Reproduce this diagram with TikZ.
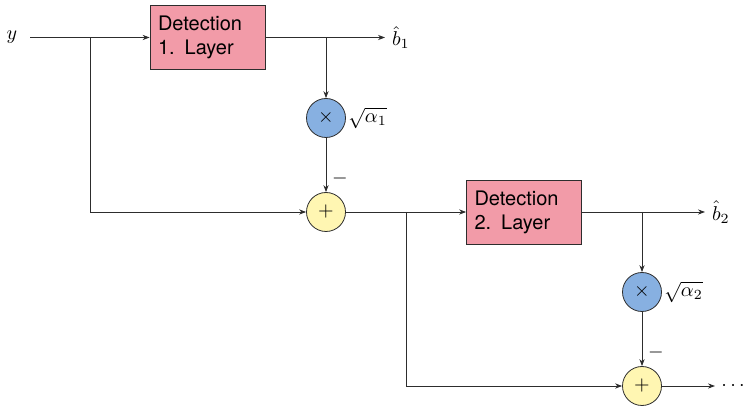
\documentclass[tikz,border=0pt]{standalone}
\usepackage{fontspec}
\setsansfont{TeX Gyre Heros}
\usetikzlibrary{arrows.meta}

\definecolor{detpink}{RGB}{242,155,168}
\definecolor{multblue}{RGB}{135,176,225}
\definecolor{sumyellow}{RGB}{255,246,178}
\definecolor{edgegray}{RGB}{45,45,45}

\begin{document}
\begin{tikzpicture}[x=0.5pt,y=-0.5pt,
  det/.style={draw=edgegray, fill=detpink, font=\sffamily, align=left,
    text width=49.5pt, inner xsep=4pt, minimum height=32pt},
  mult/.style={circle, draw=edgegray, fill=multblue, minimum size=19.5pt, inner sep=0pt},
  summ/.style={circle, draw=edgegray, fill=sumyellow, minimum size=19.5pt, inner sep=0pt},
  sig/.style={draw=edgegray, -{Stealth[length=3.5pt,width=2.6pt]}},
  lab/.style={anchor=west, inner sep=1pt}]
  \useasboundingbox (0,0) rectangle (745,406);

  % first detection stage
  \node (y) at (12,37.5) {$y$};
  \coordinate (in) at (30,37.5);
  \node[det] (d1) at (207.5,37.5) {Detection\\1. Layer};
  \node[anchor=west] (b1) at (385,37.5) {$\hat{b}_1$};
  \node[mult] (m1) at (326,118) {$\times$};
  \node[summ] (s1) at (326,212) {$+$};
  \node[lab] (a1) at (m1.east) {$\sqrt{\alpha_1}$};
  \node (n1) at (340,179) {$-$};
  \coordinate (j1) at (90,37.5);
  \coordinate (k1) at (326,37.5);

  \draw[sig] (in) -- (d1.west);
  \draw[sig] (d1.east) -- (b1.west);
  \draw[sig] (k1) -- (m1);
  \draw[sig] (m1) -- (s1);
  \draw[sig] (j1) |- (s1.west);

  % second detection stage
  \node[det] (d2) at (524,212) {Detection\\2. Layer};
  \node[anchor=west] (b2) at (705,212) {$\hat{b}_2$};
  \node[mult] (m2) at (642,292) {$\times$};
  \node[summ] (s2) at (642,386) {$+$};
  \node[lab] (a2) at (m2.east) {$\sqrt{\alpha_2}$};
  \node (n2) at (656,353) {$-$};
  \node[anchor=west, inner sep=3pt] (dots) at (715,386) {$\cdots$};
  \coordinate (j2) at (406,212);
  \coordinate (k2) at (642,212);

  \draw[sig] (s1.east) -- (d2.west);
  \draw[sig] (d2.east) -- (b2.west);
  \draw[sig] (k2) -- (m2);
  \draw[sig] (m2) -- (s2);
  \draw[sig] (j2) |- (s2.west);
  \draw[sig] (s2.east) -- (dots.west);
\end{tikzpicture}
\end{document}
